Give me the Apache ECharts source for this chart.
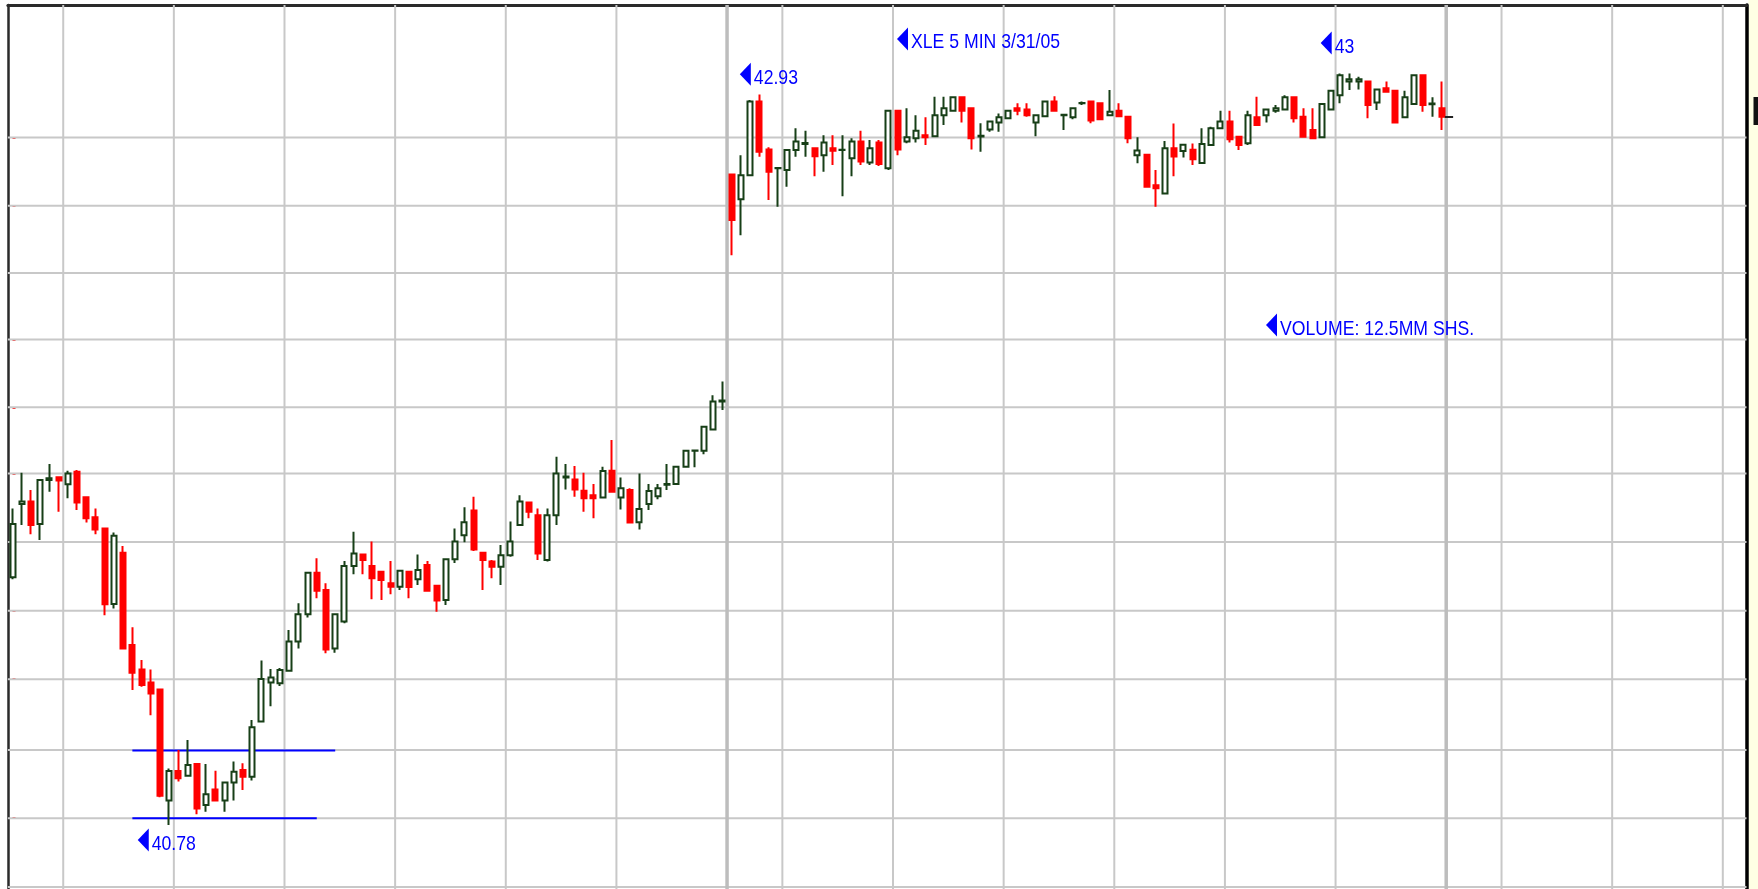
<!DOCTYPE html>
<html>
<head>
<meta charset="utf-8">
<script src="https://cdn.jsdelivr.net/npm/echarts@6/dist/echarts.min.js"></script>
<style>
html,body{margin:0;padding:0;background:#ffffff;}
#chart{width:1758px;height:889px;}
</style>
</head>
<body>
<div id="chart"></div>
<script>
// XLE 5-minute bars, 3/30/05 09:30 - 3/31/05 16:00 (slot index = 5-minute bar number)
const opens = [
41.511,41.727,41.734,41.668,41.798,41.806,41.785,41.822,41.747,41.688,
41.655,41.432,41.583,41.311,41.239,41.200,41.180,40.852,40.939,40.925,
40.960,40.839,40.885,40.852,40.905,40.942,40.922,41.085,41.200,41.198,
41.235,41.321,41.402,41.524,41.473,41.301,41.380,41.544,41.578,41.544,
41.527,41.493,41.483,41.527,41.505,41.547,41.486,41.444,41.564,41.635,
41.708,41.583,41.557,41.542,41.576,41.665,41.731,41.694,41.562,41.694,
41.805,41.799,41.766,41.753,41.746,41.825,41.746,41.768,41.673,41.727,
41.750,41.784,41.786,41.837,41.884,41.884,41.947,42.029,42.699,42.626,
42.697,42.914,42.773,42.717,42.712,42.771,42.789,42.776,42.756,42.776,
42.771,42.747,42.796,42.734,42.793,42.717,42.887,42.796,42.806,42.815,
42.812,42.874,42.887,42.927,42.894,42.811,42.832,42.852,42.865,42.894,
42.891,42.852,42.871,42.914,42.874,42.868,42.909,42.914,42.909,42.874,
42.887,42.869,42.756,42.757,42.667,42.643,42.776,42.768,42.772,42.733,
42.786,42.835,42.855,42.810,42.791,42.868,42.874,42.887,42.891,42.927,
42.869,42.830,42.809,42.891,42.933,42.973,42.973,42.973,42.911,42.953,
42.946,42.868,42.907,42.992,42.906,42.894
];
const highs = [
41.714,41.819,41.768,41.798,41.845,41.806,41.825,41.827,41.747,41.714,
41.655,41.643,41.603,41.363,41.267,41.239,41.180,40.947,41.001,41.031,
40.960,40.960,40.940,40.905,40.967,40.962,41.090,41.265,41.240,41.243,
41.355,41.434,41.524,41.567,41.493,41.405,41.559,41.645,41.578,41.616,
41.527,41.559,41.530,41.527,41.578,41.559,41.486,41.564,41.655,41.717,
41.748,41.583,41.562,41.606,41.675,41.753,41.731,41.714,41.714,41.866,
41.845,41.839,41.819,41.786,41.837,41.916,41.805,41.773,41.817,41.786,
41.786,41.845,41.837,41.884,41.885,41.955,42.048,42.088,42.699,42.756,
42.919,42.935,42.779,42.718,42.774,42.835,42.828,42.776,42.815,42.815,
42.815,42.806,42.828,42.801,42.801,42.887,42.887,42.894,42.874,42.868,
42.928,42.928,42.927,42.927,42.894,42.850,42.855,42.879,42.887,42.909,
42.909,42.874,42.914,42.930,42.875,42.894,42.914,42.914,42.909,42.948,
42.909,42.869,42.809,42.757,42.712,42.798,42.849,42.787,42.790,42.835,
42.840,42.887,42.887,42.810,42.887,42.928,42.891,42.904,42.933,42.927,
42.894,42.894,42.907,42.946,42.997,42.997,42.987,42.973,42.950,42.973,
42.946,42.946,42.992,42.992,42.927,42.973
];
const lows = [
41.505,41.665,41.638,41.621,41.763,41.704,41.744,41.709,41.672,41.638,
41.399,41.419,41.301,41.178,41.188,41.104,40.862,40.780,40.908,40.923,
40.812,40.819,40.849,40.819,40.852,40.883,40.911,41.085,41.130,41.190,
41.235,41.301,41.392,41.449,41.287,41.288,41.375,41.520,41.520,41.446,
41.444,41.461,41.473,41.449,41.488,41.468,41.409,41.429,41.553,41.614,
41.588,41.473,41.508,41.488,41.571,41.665,41.685,41.562,41.557,41.665,
41.770,41.748,41.704,41.685,41.746,41.763,41.711,41.670,41.652,41.709,
41.741,41.768,41.784,41.837,41.835,41.874,41.947,42.004,42.461,42.520,
42.697,42.751,42.624,42.604,42.663,42.751,42.751,42.694,42.707,42.727,
42.635,42.694,42.727,42.727,42.724,42.712,42.756,42.791,42.793,42.786,
42.810,42.845,42.887,42.852,42.773,42.766,42.825,42.825,42.865,42.874,
42.869,42.812,42.871,42.884,42.830,42.862,42.904,42.850,42.860,42.871,
42.870,42.791,42.732,42.660,42.604,42.643,42.694,42.749,42.727,42.733,
42.785,42.835,42.793,42.771,42.786,42.845,42.852,42.881,42.891,42.852,
42.808,42.806,42.806,42.891,42.909,42.948,42.950,42.865,42.889,42.940,
42.852,42.868,42.907,42.884,42.869,42.830
];
const closes = [
41.668,41.734,41.665,41.798,41.803,41.796,41.817,41.731,41.685,41.652,
41.431,41.633,41.301,41.229,41.193,41.168,40.866,40.939,40.918,40.957,
40.829,40.871,40.852,40.905,40.937,40.922,41.068,41.211,41.215,41.237,
41.321,41.402,41.524,41.471,41.298,41.402,41.544,41.581,41.562,41.508,
41.503,41.483,41.530,41.482,41.532,41.471,41.442,41.564,41.616,41.673,
41.593,41.562,41.542,41.576,41.616,41.734,41.704,41.581,41.694,41.817,
41.808,41.770,41.744,41.744,41.824,41.763,41.773,41.672,41.712,41.765,
41.773,41.786,41.837,41.884,41.885,41.955,42.029,42.032,42.565,42.697,
42.914,42.766,42.707,42.718,42.771,42.796,42.792,42.753,42.793,42.769,
42.772,42.796,42.737,42.776,42.730,42.887,42.773,42.809,42.828,42.809,
42.874,42.894,42.927,42.887,42.806,42.813,42.855,42.868,42.887,42.887,
42.874,42.874,42.914,42.887,42.875,42.894,42.910,42.858,42.862,42.884,
42.871,42.806,42.770,42.663,42.658,42.776,42.752,42.787,42.744,42.789,
42.835,42.855,42.803,42.786,42.874,42.845,42.891,42.894,42.927,42.865,
42.810,42.806,42.907,42.946,42.992,42.980,42.980,42.904,42.950,42.943,
42.852,42.927,42.992,42.904,42.908,42.869
];

// horizontal price grid levels
const gridLevels = [40.597,40.800,41.001,41.210,41.412,41.615,41.817,42.012,42.212,42.408,42.607,42.808];
// hourly vertical grid lines: 5-minute slot boundaries (10:00, 11:00, ... of each session)
const hourBoundaries = [6,18,30,42,54,66,84,96,108,120,132,144,162,174,186];
// session breaks (16:00 close of 3/30 and 3/31)
const sessionBreaks = [78,156];
// blue horizontal levels drawn under the 3/30 low
const levelPrices = [41.0, 40.8];
const levelFrom = [13, 13];
const levelTo = [35, 33];
// price annotations
const noteIndex = [17, 81, 144];
const noteValue = [40.78, 42.93, 43];
const titleText = 'XLE 5 MIN 3/31/05';
const volumeText = 'VOLUME: 12.5MM SHS.';

const X_MIN = -0.5, X_MAX = 188.07;
const Y_MIN = 40.5912, Y_MAX = 43.1989;
const FONT = '21px "Liberation Sans", Arial, sans-serif';
const TEXT_SCALE_X = 0.84;
const BLUE = '#0000ff';
const UP = '#173f17';
const DOWN = '#ff0000';

const candleData = opens.map((o, i) => [i, o, closes[i], lows[i], highs[i]]);
const lastIdx = closes.length - 1;

const chart = echarts.init(document.getElementById('chart'), null, {renderer: 'canvas'});

const axisBase = {
  min: Y_MIN, max: Y_MAX, type: 'value', scale: true,
  axisLabel: {show: false}, splitLine: {show: false}
};

// left-pointing arrow + condensed blue text, arrow centred at (cx, cy)
function arrowNote(cx, cy, text, dy) {
  return [
    {type: 'polygon', shape: {points: [[cx - 5.5, cy], [cx + 5.5, cy - 11.5], [cx + 5.5, cy + 11.5]]},
      style: {fill: BLUE}, z: 20, silent: true},
    {type: 'text', x: cx + 8.5, y: cy + dy, scaleX: TEXT_SCALE_X, z: 20, silent: true,
      style: {text: text, fill: BLUE, font: FONT, verticalAlign: 'middle', align: 'left'}}
  ];
}

chart.setOption({
  animation: false,
  backgroundColor: '#ffffff',
  grid: {left: 7.9, right: 11.5, top: 5, bottom: 0, containLabel: false, outerBoundsMode: 'none'},
  xAxis: [{
    type: 'value', min: X_MIN, max: X_MAX, position: 'top',
    axisLine: {show: true, onZero: false, lineStyle: {color: '#2a2a2a', width: 3}},
    axisTick: {show: false}, axisLabel: {show: false}, splitLine: {show: false}
  }],
  yAxis: [
    Object.assign({}, axisBase, {position: 'left',
      axisLine: {show: true, onZero: false, lineStyle: {color: '#2a2a2a', width: 2.5}},
      axisTick: {show: false}}),
    Object.assign({}, axisBase, {position: 'right',
      axisLine: {show: true, onZero: false, lineStyle: {color: '#000000', width: 3.5}},
      axisTick: {show: false}}),
    Object.assign({}, axisBase, {position: 'right', offset: 7,
      axisLine: {show: false},
      axisTick: {show: true, inside: false, length: 3, customValues: gridLevels,
        lineStyle: {color: '#ff2020', width: 2}}})
  ],
  series: [
    {
      name: 'hgrid', type: 'custom', z: 1, silent: true, clip: false,
      data: gridLevels.map(v => [0, v]),
      renderItem: (params, api) => {
        const v = api.value(1);
        const a = api.coord([X_MIN, v]), b = api.coord([X_MAX, v]);
        return {type: 'line', shape: {x1: a[0], y1: a[1], x2: b[0], y2: b[1]},
          style: {stroke: '#c8c8c8', lineWidth: 2}};
      }
    },
    {
      name: 'vgrid', type: 'custom', z: 1, silent: true, clip: false,
      data: hourBoundaries.map(k => [k - 0.5, 0, 0]).concat(sessionBreaks.map(k => [k - 0.5, 0, 1])),
      renderItem: (params, api) => {
        const x = api.value(0), thick = api.value(2) === 1;
        const a = api.coord([x, Y_MAX]), b = api.coord([x, Y_MIN]);
        return {type: 'line', shape: {x1: a[0], y1: a[1], x2: b[0], y2: b[1]},
          style: {stroke: thick ? '#bdbdbd' : '#c8c8c8', lineWidth: thick ? 3.5 : 2}};
      }
    },
    {
      name: 'levels', type: 'custom', z: 2, silent: true, clip: false,
      data: levelPrices.map((p, k) => [levelFrom[k], p, levelTo[k]]),
      renderItem: (params, api) => {
        const a = api.coord([api.value(0), api.value(1)]);
        const b = api.coord([api.value(2), api.value(1)]);
        return {type: 'line', shape: {x1: a[0], y1: a[1], x2: b[0], y2: b[1]},
          style: {stroke: BLUE, lineWidth: 2}};
      }
    },
    {
      name: 'XLE', type: 'candlestick', z: 3,
      data: candleData,
      encode: {x: 0, y: [1, 2, 3, 4]},
      barWidth: 5.5,
      itemStyle: {color: '#ffffff', color0: DOWN, borderColor: UP, borderColor0: DOWN, borderWidth: 2},
      markLine: {
        silent: true, symbol: ['none', 'none'], label: {show: false},
        lineStyle: {color: '#222222', width: 2, type: 'solid'},
        data: [[{coord: [lastIdx + 0.35, closes[lastIdx]]}, {coord: [lastIdx + 1.25, closes[lastIdx]]}]]
      }
    }
  ]
});

// annotations: price notes anchored to their bars through the axes, plus title / volume notes
const noteOffsets = [[-26, 15], [-14, -22], [-14, -29.5]];
const graphics = [
  {type: 'rect', x: 1748.4, y: 0, shape: {width: 10, height: 889}, style: {fill: '#ffffe4'}, z: 0, silent: true},
  {type: 'rect', x: 1753.5, y: 97, shape: {width: 5, height: 28}, style: {fill: '#111111'}, z: 10, silent: true}
];
noteIndex.forEach((idx, k) => {
  const p = chart.convertToPixel({xAxisIndex: 0, yAxisIndex: 0}, [idx, noteValue[k]]);
  graphics.push(...arrowNote(p[0] + noteOffsets[k][0], p[1] + noteOffsets[k][1], String(noteValue[k]), 4));
});
graphics.push(...arrowNote(902.5, 39, titleText, 3));
graphics.push(...arrowNote(1271.5, 325, volumeText, 4));
chart.setOption({graphic: graphics});
</script>
</body>
</html>
